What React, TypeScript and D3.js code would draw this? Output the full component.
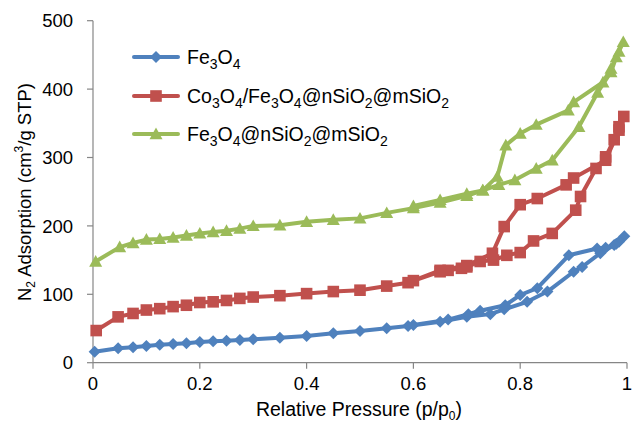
import React from "react";
import * as d3 from "d3";

const xTicks = [0, 0.2, 0.4, 0.6, 0.8, 1];
const xTickLabels = ["0", "0.2", "0.4", "0.6", "0.8", "1"];
const yTicks = [0, 100, 200, 300, 400, 500];

// Fe3O4
const feAdsP = [0.003,0.047,0.075,0.1,0.125,0.15,0.175,0.2,0.225,0.25,0.275,0.3,0.35,0.4,0.45,0.5,0.55,0.59,0.65,0.7,0.744,0.77,0.813,0.851,0.9,0.916,0.95,0.98,0.995];
const feAdsV = [16,21,22.5,24.4,26.3,27.3,28.4,30.3,31.3,32.2,33.2,34.2,36.5,39,43,46.3,50.3,53.7,60,67,71,78,89,104,133,140,160,174,185];
const feDesP = [0.985,0.976,0.96,0.944,0.891,0.832,0.8,0.772,0.725,0.703,0.665,0.6];
const feDesV = [177,172,168,167,157,109,99,84,76,71,63,55];

// Co3O4/Fe3O4@nSiO2@mSiO2
const coAdsP = [0.006,0.047,0.075,0.1,0.125,0.15,0.175,0.2,0.225,0.25,0.275,0.3,0.35,0.4,0.45,0.5,0.55,0.59,0.65,0.665,0.69,0.7,0.725,0.75,0.775,0.8,0.825,0.86,0.904,0.913,0.942,0.96,0.976,0.985,0.994];
const coAdsV = [47,67,72,77,79,82,84,88,89,91,94,96,98,101,104,106,112,117,133,135,138,140,148,150,157,161,178,189,223,243,284,301,326,345,360];
const coDesP = [0.985,0.96,0.9,0.886,0.832,0.8,0.77,0.748,0.7,0.65,0.6];
const coDesV = [340,296,270,260,240,231,199,160,142,135,120];

// Fe3O4@nSiO2@mSiO2
const siAdsP = [0.005,0.05,0.075,0.1,0.125,0.15,0.175,0.2,0.225,0.25,0.275,0.3,0.35,0.4,0.45,0.5,0.55,0.6,0.65,0.7,0.73,0.76,0.79,0.83,0.86,0.91,0.945,0.97,0.98,0.993];
const siAdsV = [148,169,175,180,181,183,186,189,191,193,196,200,201,206,209,211,219,226,234,244,252,260,267,284,296,345,395,425,447,469];
const siDesP = [0.985,0.97,0.955,0.9,0.89,0.83,0.8,0.773,0.757,0.73,0.7,0.65,0.6];
const siDesV = [455,430,410,381,369,348,335,318,272,252,247,238,229];

const FONT = "'Liberation Sans', Arial, sans-serif";

function pts(p1: number[], v1: number[], p2: number[], v2: number[]) {
  return [...p1.map((p, i) => [p, v1[i]]), ...p2.map((p, i) => [p, v2[i]])] as [number, number][];
}

const series = [
  { key: "fe", color: "#4F81BD", marker: "diamond", data: pts(feAdsP, feAdsV, feDesP, feDesV) },
  { key: "co", color: "#C0504D", marker: "square", data: pts(coAdsP, coAdsV, coDesP, coDesV) },
  { key: "si", color: "#9BBB59", marker: "triangle", data: pts(siAdsP, siAdsV, siDesP, siDesV) },
];

function Marker({ type, x, y, color }: { type: string; x: number; y: number; color: string }) {
  if (type === "diamond") {
    const s = 6;
    return <path d={`M${x},${y - s}L${x + s},${y}L${x},${y + s}L${x - s},${y}Z`} fill={color} />;
  }
  if (type === "square") {
    const s = 5.8;
    return <rect x={x - s} y={y - s} width={2 * s} height={2 * s} fill={color} />;
  }
  const s = 6.5;
  return <path d={`M${x},${y - s}L${x + s},${y + s * 0.8}L${x - s},${y + s * 0.8}Z`} fill={color} />;
}

export default function App() {
  const W = 632, H = 434;
  const x = d3.scaleLinear().domain([0, 1]).range([93, 627]);
  const y = d3.scaleLinear().domain([0, 500]).range([362.7, 20.7]);
  const line = d3.line<[number, number]>().x((d) => x(d[0])).y((d) => y(d[1]));
  const axisColor = "#868686";
  const legend = [
    { color: "#4F81BD", marker: "diamond", y: 57 },
    { color: "#C0504D", marker: "square", y: 96 },
    { color: "#9BBB59", marker: "triangle", y: 134 },
  ];
  const fs = 19.5;
  const sub = { fontSize: 14, baselineShift: "-5px" } as any;
  const subA = { fontSize: 12, baselineShift: "-4px" } as any;
  return (
    <svg width={W} height={H} style={{ position: "absolute", left: 0, top: 0, background: "#fff" }} fontFamily={FONT}>
      {/* axes */}
      <line x1={x(0)} x2={x(1)} y1={y(0)} y2={y(0)} stroke={axisColor} strokeWidth={1.2} />
      <line x1={x(0)} x2={x(0)} y1={y(0)} y2={y(500)} stroke={axisColor} strokeWidth={1.2} />
      {yTicks.map((t) => (
        <g key={"y" + t}>
          <line x1={x(0) - 6} x2={x(0)} y1={y(t)} y2={y(t)} stroke={axisColor} strokeWidth={1.2} />
          <text x={x(0) - 20} y={y(t)} dy="0.36em" textAnchor="end" fontSize={18.5} fill="#000">{t}</text>
        </g>
      ))}
      {xTicks.map((t, i) => (
        <g key={"x" + t}>
          <line x1={x(t)} x2={x(t)} y1={y(0)} y2={y(0) + 6} stroke={axisColor} strokeWidth={1.2} />
          <text x={x(t)} y={y(0) + 27} textAnchor="middle" fontSize={18.5} fill="#000">{xTickLabels[i]}</text>
        </g>
      ))}
      <text x={359} y={416} textAnchor="middle" fontSize={19.5} fill="#000">
        Relative Pressure (p/p<tspan style={subA}>0</tspan><tspan>)</tspan>
      </text>
      <text transform="translate(31,192) rotate(-90)" textAnchor="middle" fontSize={18.5} fill="#000">
        N<tspan style={subA}>2</tspan><tspan> Adsorption (cm</tspan><tspan fontSize={12} dy={-8}>3</tspan><tspan dy={8}>/g STP)</tspan>
      </text>
      {/* series */}
      {series.map((s) => (
        <g key={s.key}>
          <path d={line(s.data) || ""} fill="none" stroke={s.color} strokeWidth={4} strokeLinejoin="round" />
          {s.data.map((d, i) => (
            <Marker key={i} type={s.marker} x={x(d[0])} y={y(d[1])} color={s.color} />
          ))}
        </g>
      ))}
      {/* legend */}
      {legend.map((l, i) => (
        <g key={"l" + i}>
          <line x1={134} x2={178} y1={l.y} y2={l.y} stroke={l.color} strokeWidth={4} strokeLinecap="round" />
          <Marker type={l.marker} x={156} y={l.y} color={l.color} />
        </g>
      ))}
      <text x={187} y={57 + 7} fontSize={fs} fill="#000">
        Fe<tspan style={sub}>3</tspan><tspan>O</tspan><tspan style={sub}>4</tspan>
      </text>
      <text x={187} y={96 + 7} fontSize={fs} fill="#000">
        Co<tspan style={sub}>3</tspan><tspan>O</tspan><tspan style={sub}>4</tspan><tspan>/Fe</tspan><tspan style={sub}>3</tspan><tspan>O</tspan><tspan style={sub}>4</tspan><tspan>@nSiO</tspan><tspan style={sub}>2</tspan><tspan>@mSiO</tspan><tspan style={sub}>2</tspan>
      </text>
      <text x={187} y={134 + 7} fontSize={fs} fill="#000">
        Fe<tspan style={sub}>3</tspan><tspan>O</tspan><tspan style={sub}>4</tspan><tspan>@nSiO</tspan><tspan style={sub}>2</tspan><tspan>@mSiO</tspan><tspan style={sub}>2</tspan>
      </text>
    </svg>
  );
}
